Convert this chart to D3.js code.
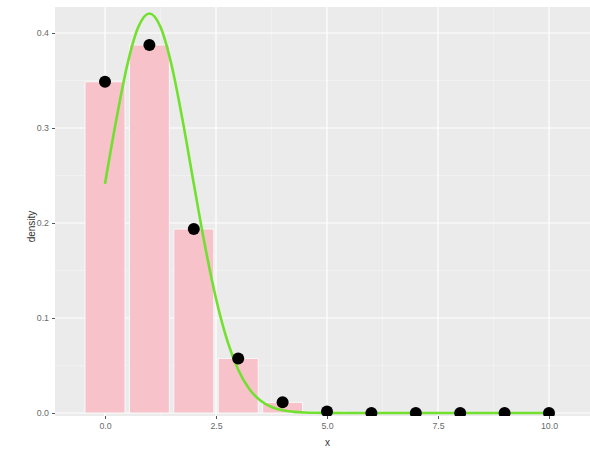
<!DOCTYPE html>
<html>
<head>
<meta charset="utf-8">
<script src="https://cdn.jsdelivr.net/npm/d3@7"></script>
<style>
  html, body { margin: 0; padding: 0; background: #fff; }
  svg { display: block; }
  text { font-family: "Liberation Sans", Arial, sans-serif; }
</style>
</head>
<body>
<svg id="chart" width="590" height="450"></svg>
<script>
// ---- data ----
const xValues = [0, 1, 2, 3, 4, 5, 6, 7, 8, 9, 10];
const probValues = [0.3487, 0.3874, 0.1937, 0.0574, 0.0112, 0.0015, 0.0001, 0.0, 0.0, 0.0, 0.0];
const curveX = [0, 0.25, 0.5, 0.75, 1, 1.25, 1.5, 1.75, 2, 2.25, 2.5, 2.75, 3, 3.25, 3.5, 3.75, 4, 4.25, 4.5, 4.75, 5, 5.5, 6, 7, 8, 9, 10];
const curveY = [0.2413, 0.3076, 0.3660, 0.4062, 0.4205, 0.4062, 0.3660, 0.3076, 0.2413, 0.1765, 0.1205, 0.0767, 0.0456, 0.0253, 0.0131, 0.0063, 0.0028, 0.0012, 0.0005, 0.0002, 0.0001, 0, 0, 0, 0, 0, 0];
const xTicks = [0, 2.5, 5, 7.5, 10];
const xTickLabels = ["0.0", "2.5", "5.0", "7.5", "10.0"];
const xMinor = [1.25, 3.75, 6.25, 8.75];
const yTicks = [0, 0.1, 0.2, 0.3, 0.4];
const yTickLabels = ["0.0", "0.1", "0.2", "0.3", "0.4"];
const yMinor = [0.05, 0.15, 0.25, 0.35];
const xTitle = "x";
const yTitle = "density";

// ---- layout ----
const panel = { left: 55, top: 7, right: 592, bottom: 416 };
const svg = d3.select("#chart");

const x = d3.scaleLinear().domain([0, 10]).range([105, 549]);
const y = d3.scaleLinear().domain([0, 0.4]).range([413, 33]);

// panel background
svg.append("rect")
  .attr("x", panel.left).attr("y", panel.top)
  .attr("width", panel.right - panel.left)
  .attr("height", panel.bottom - panel.top)
  .attr("fill", "#ebebeb");

svg.append("clipPath").attr("id", "pclip")
  .append("rect")
  .attr("x", panel.left).attr("y", panel.top)
  .attr("width", panel.right - panel.left)
  .attr("height", panel.bottom - panel.top);

const g = svg.append("g").attr("clip-path", "url(#pclip)");

// minor grid
g.selectAll("line.xminor").data(xMinor).enter().append("line")
  .attr("x1", d => x(d)).attr("x2", d => x(d))
  .attr("y1", panel.top).attr("y2", panel.bottom)
  .attr("stroke", "#f5f5f5").attr("stroke-width", 0.6);
g.selectAll("line.yminor").data(yMinor).enter().append("line")
  .attr("y1", d => y(d)).attr("y2", d => y(d))
  .attr("x1", panel.left).attr("x2", panel.right)
  .attr("stroke", "#f5f5f5").attr("stroke-width", 0.6);
// major grid
g.selectAll("line.xmajor").data(xTicks).enter().append("line")
  .attr("x1", d => x(d)).attr("x2", d => x(d))
  .attr("y1", panel.top).attr("y2", panel.bottom)
  .attr("stroke", "#ffffff").attr("stroke-width", 1.2);
g.selectAll("line.ymajor").data(yTicks).enter().append("line")
  .attr("y1", d => y(d)).attr("y2", d => y(d))
  .attr("x1", panel.left).attr("x2", panel.right)
  .attr("stroke", "#ffffff").attr("stroke-width", 1.2);

// bars
const barW = x(0.9) - x(0);
g.selectAll("rect.bar").data(xValues).enter().append("rect")
  .attr("x", d => x(d) - barW / 2)
  .attr("width", barW)
  .attr("y", (d, i) => y(probValues[i]))
  .attr("height", (d, i) => y(0) - y(probValues[i]))
  .attr("fill", "#f7c2ca")
  .attr("stroke", "#f8f8f8")
  .attr("stroke-width", 1);

// curve
const line = d3.line()
  .x((d, i) => x(curveX[i]))
  .y(d => y(d))
  .curve(d3.curveMonotoneX);
g.append("path")
  .datum(curveY)
  .attr("d", line)
  .attr("fill", "none")
  .attr("stroke", "#72e02e")
  .attr("stroke-width", 2.6);

// points
g.selectAll("circle.pt").data(xValues).enter().append("circle")
  .attr("cx", d => x(d))
  .attr("cy", (d, i) => y(probValues[i]))
  .attr("r", 6)
  .attr("fill", "#000");

// axes
const xAxis = d3.axisBottom(x).tickValues(xTicks)
  .tickFormat((d, i) => xTickLabels[i]).tickSize(3).tickPadding(4);
const xg = svg.append("g").attr("transform", `translate(0,${panel.bottom})`).call(xAxis);
xg.select(".domain").remove();
xg.selectAll(".tick line").attr("stroke", "#555");
xg.selectAll(".tick text").attr("fill", "#6a6a6a").attr("font-size", 8.8)
  .style("font-family", "Liberation Sans, Arial, sans-serif");

const yAxis = d3.axisLeft(y).tickValues(yTicks)
  .tickFormat((d, i) => yTickLabels[i]).tickSize(3).tickPadding(3);
const yg = svg.append("g").attr("transform", `translate(${panel.left},0)`).call(yAxis);
yg.select(".domain").remove();
yg.selectAll(".tick line").attr("stroke", "#555");
yg.selectAll(".tick text").attr("fill", "#6a6a6a").attr("font-size", 8.8)
  .style("font-family", "Liberation Sans, Arial, sans-serif");

// titles
svg.append("text")
  .attr("x", (panel.left + 600) / 2)
  .attr("y", 446)
  .attr("text-anchor", "middle")
  .attr("font-size", 10)
  .attr("fill", "#333")
  .text(xTitle);
svg.append("text")
  .attr("transform", `translate(35,${(panel.top + panel.bottom) / 2 + 15}) rotate(-90)`)
  .attr("text-anchor", "middle")
  .attr("font-size", 10)
  .attr("fill", "#333")
  .text(yTitle);
</script>
</body>
</html>
